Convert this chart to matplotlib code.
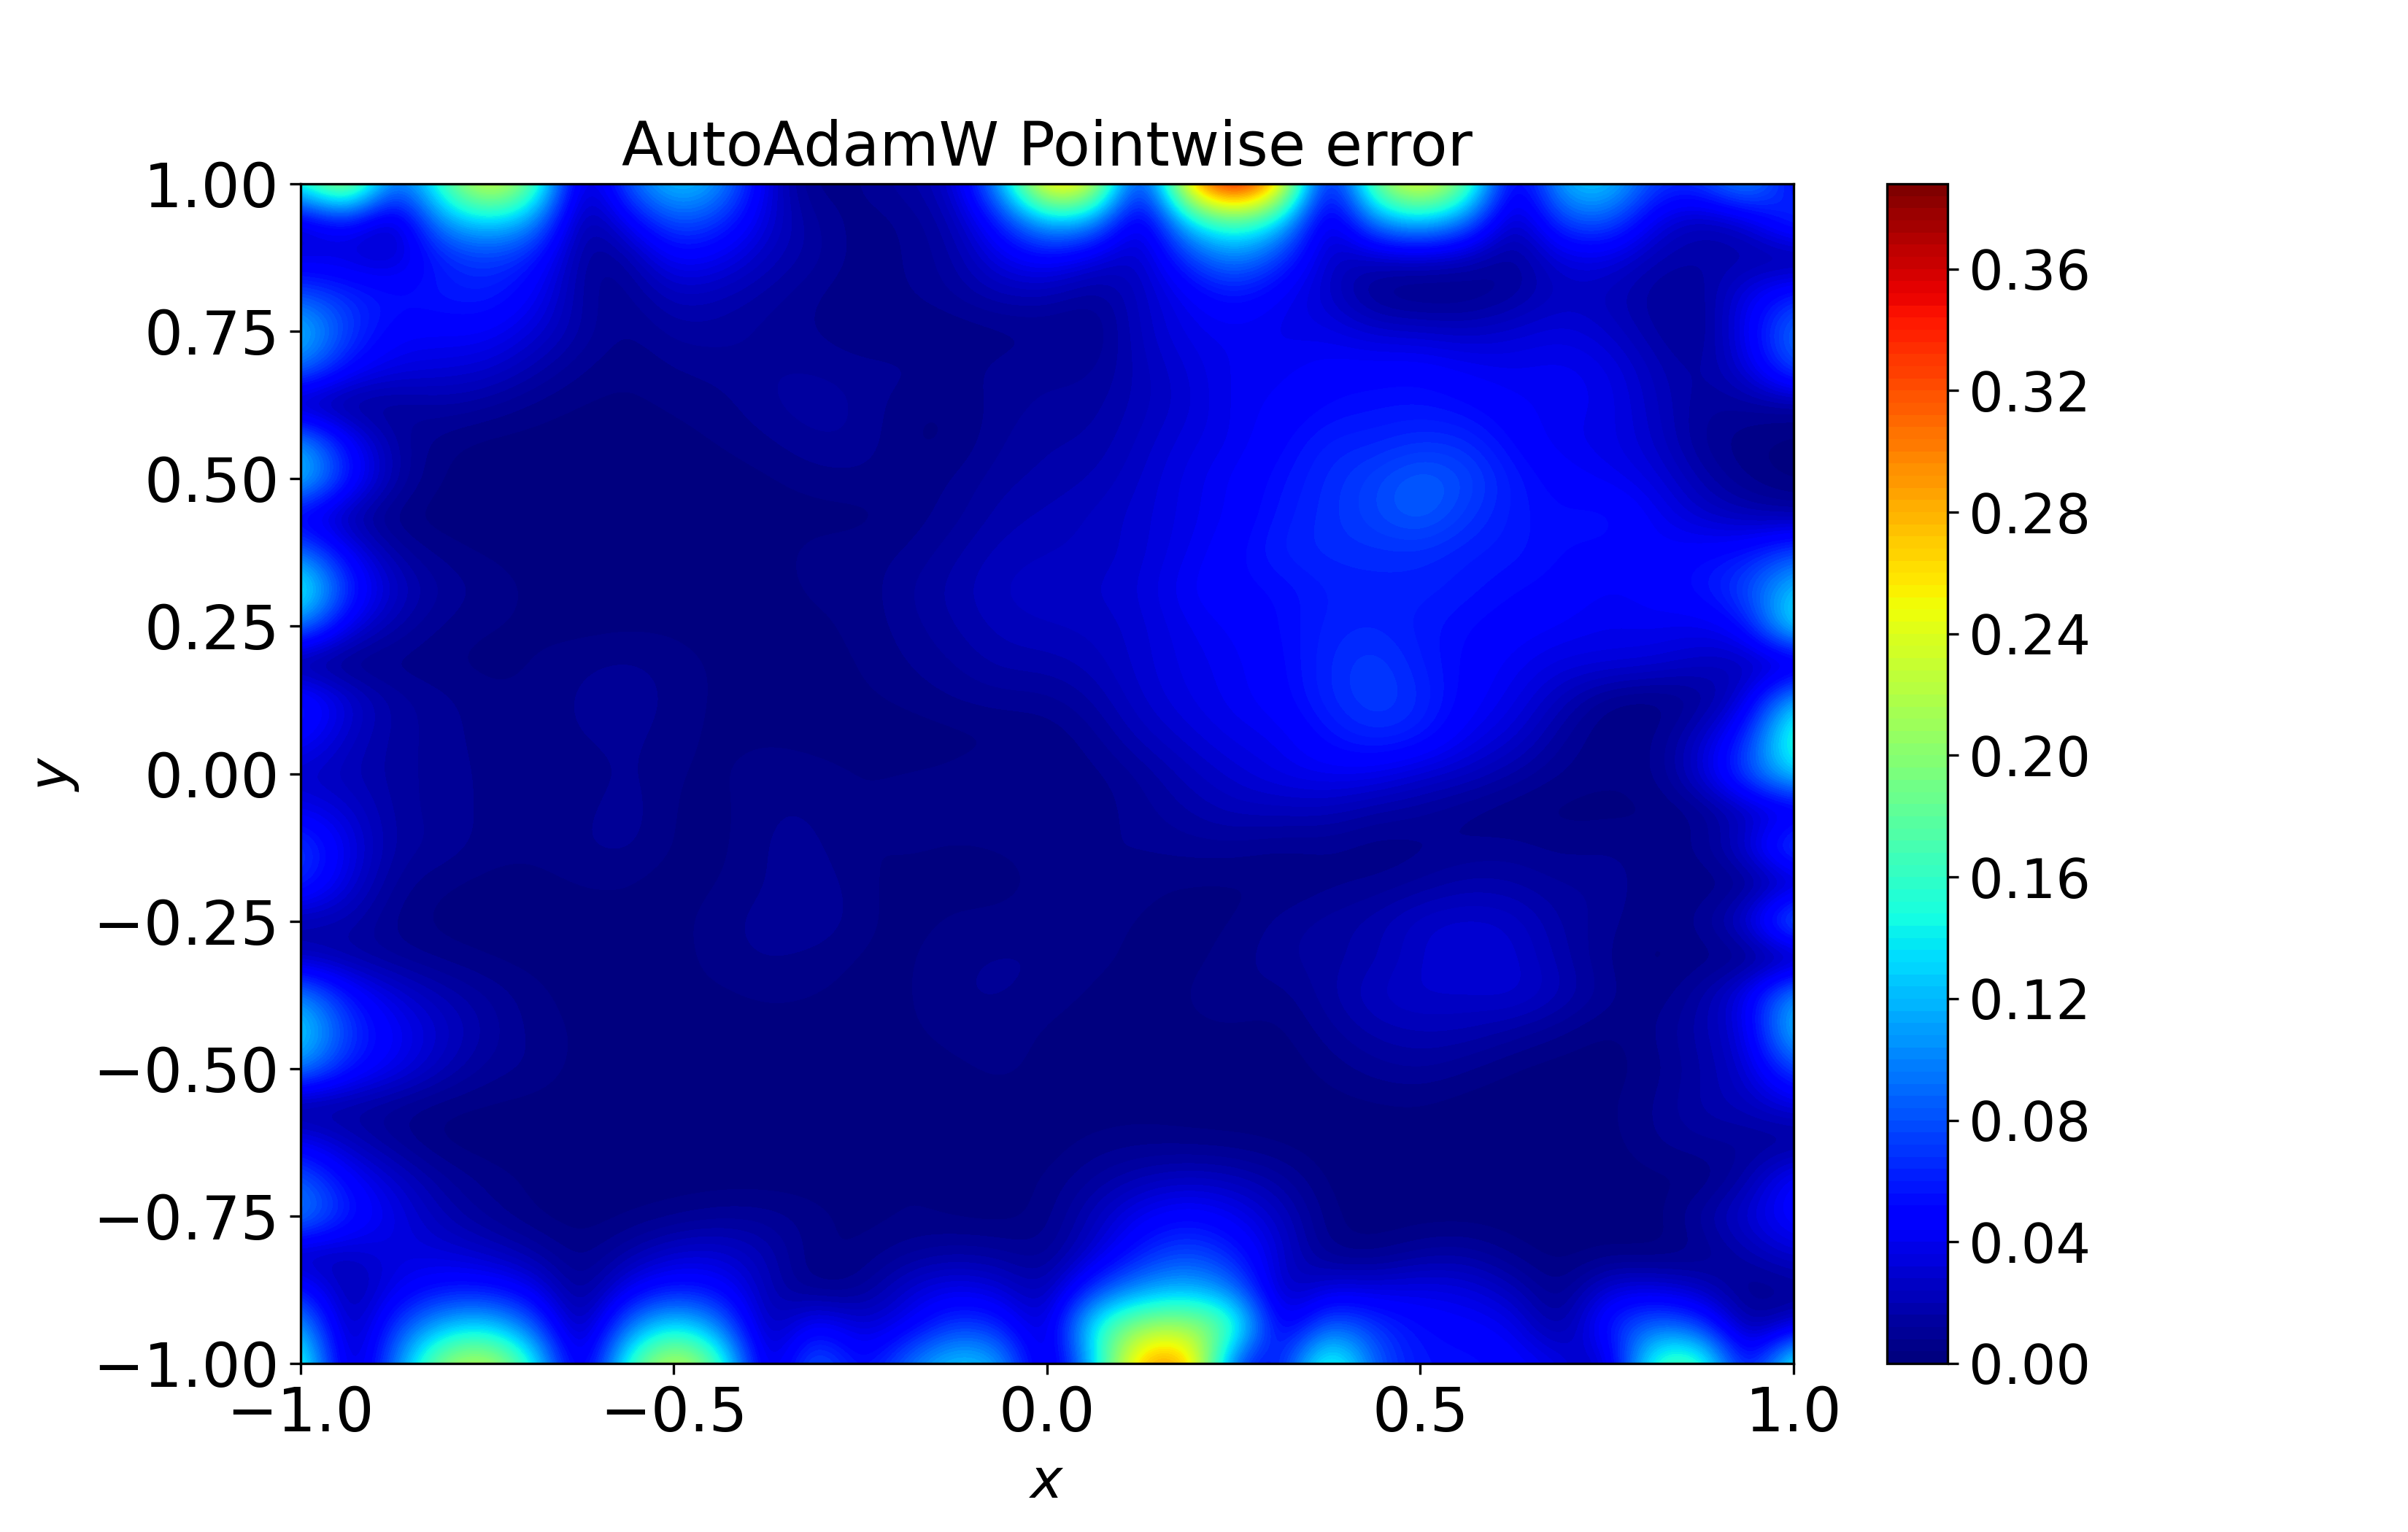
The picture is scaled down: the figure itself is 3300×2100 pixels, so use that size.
import numpy as np
import matplotlib
matplotlib.use('Agg')
import matplotlib.pyplot as plt
from matplotlib.colors import BoundaryNorm

# pointwise error, in units of 0.001
# rows go from y=1 down to y=-1, columns from x=-1 to x=1
err_milli = [
    [150,250,70,165,258,190,5,85,135,110,30,3,8,15,25,110,290,255,20,280,388,280,10,200,268,190,15,125,135,70,70,120,40],
    [25,55,10,110,135,110,5,42,85,70,30,12,5,8,18,60,125,110,12,135,175,135,10,105,130,95,10,78,88,35,18,28,80],
    [35,32,25,60,72,60,10,12,48,40,22,14,5,8,14,38,50,32,22,70,105,70,25,22,25,20,8,34,36,18,16,15,5],
    [78,65,55,58,62,45,12,8,24,20,14,8,4,8,12,20,20,10,25,42,58,42,28,6,2,4,12,25,22,12,10,38,62],
    [135,72,46,46,46,32,15,6,14,14,10,8,3,3,4,5,7,5,25,38,42,38,38,30,28,25,30,35,28,15,7,42,100],
    [98,50,36,33,30,18,8,4,8,10,12,12,10,10,6,10,11,10,22,32,42,42,48,48,50,43,40,43,38,22,12,32,85],
    [8,6,10,16,12,6,3,3,4,6,12,15,12,4,4,10,13,14,22,30,42,45,52,55,56,52,45,42,40,25,12,12,10],
    [115,48,14,5,2,2,2,3,3,4,7,12,12,3,3,12,16,16,25,35,40,50,62,62,68,66,50,40,38,28,10,4,2],
    [140,60,16,3,1,1,1,1,1,2,3,6,7,5,8,15,17,20,28,38,45,55,65,75,88,78,58,48,42,35,18,6,1],
    [35,14,3,1,1,1,1,1,1,1,2,2,2,5,10,18,21,25,30,38,45,58,66,76,88,70,58,52,58,43,28,20,15],
    [95,42,14,6,3,2,1,1,1,1,2,6,6,8,15,22,24,25,30,40,50,62,66,66,66,60,58,52,50,46,50,55,78],
    [170,65,26,12,7,3,2,1,1,1,2,5,5,12,18,25,27,28,32,45,50,52,60,62,62,58,52,50,42,48,55,78,130],
    [100,36,16,7,4,3,2,3,3,2,2,3,5,10,16,22,24,25,30,40,45,52,62,64,58,52,48,44,40,42,38,50,155],
    [2,2,5,4,2,4,7,9,6,3,3,2,4,8,12,18,18,22,30,38,42,50,64,74,60,50,42,35,35,32,25,20,12],
    [68,32,14,10,5,5,9,13,6,3,3,2,3,5,8,10,10,16,28,36,42,48,64,74,66,48,38,22,6,3,8,30,125],
    [52,25,14,10,6,5,8,10,5,3,3,2,1,1,2,3,4,10,22,30,38,40,55,66,60,40,30,12,3,6,25,62,175],
    [25,20,14,10,7,6,4,10,4,3,7,6,4,4,5,7,5,6,12,22,30,38,42,40,30,25,15,7,5,6,30,82,140],
    [40,30,14,10,7,6,6,12,3,2,8,8,3,7,7,8,7,5,10,16,22,22,22,15,12,6,3,2,2,3,6,20,25],
    [78,38,14,12,6,5,8,10,3,2,9,10,3,5,3,4,6,8,8,10,10,7,8,4,6,8,10,6,8,6,8,32,95],
    [68,32,10,4,2,2,4,4,1,4,8,12,5,2,2,2,5,10,5,3,3,3,6,8,12,18,16,12,12,4,3,4,15],
    [15,18,6,2,2,2,2,3,2,7,10,14,5,2,5,5,7,6,3,3,3,10,14,18,28,30,28,15,10,3,10,32,115],
    [20,14,10,6,3,2,2,2,2,6,9,6,3,3,7,9,8,5,3,2,6,12,14,18,28,35,30,18,7,2,4,2,3],
    [105,55,32,20,12,5,2,4,3,3,5,4,3,3,8,9,6,3,2,4,8,5,15,25,30,28,32,22,10,3,15,40,115],
    [145,70,45,28,15,6,3,4,1,1,2,2,2,3,6,6,3,2,2,3,3,2,10,18,20,20,14,8,2,8,18,32,135],
    [105,58,40,22,10,8,2,2,1,1,1,2,1,1,3,5,3,1,2,2,2,1,5,10,13,8,3,1,2,5,15,28,80],
    [5,12,8,4,3,2,1,1,1,1,1,1,1,1,2,3,2,1,2,1,1,2,2,3,3,1,1,1,3,8,18,22,35],
    [42,22,10,2,1,1,1,1,1,1,1,1,1,5,2,1,1,5,6,5,4,2,1,1,3,1,1,1,2,8,12,10,6],
    [88,48,28,13,6,3,1,1,1,1,1,1,1,5,3,2,4,12,20,25,22,14,2,1,1,1,1,1,1,3,1,15,52],
    [110,60,38,20,10,3,1,3,6,10,10,6,2,4,2,1,5,22,42,52,42,25,4,1,1,1,1,1,1,1,15,32,55],
    [15,25,35,32,25,15,4,15,28,30,20,3,4,10,14,12,7,28,60,78,60,30,5,4,12,14,5,1,3,1,5,18,32],
    [60,12,38,55,55,40,4,40,58,50,20,4,8,30,40,32,14,70,105,120,95,15,36,34,38,35,22,3,34,34,24,4,8],
    [125,5,70,120,135,85,3,95,145,100,8,55,28,40,75,65,15,160,210,215,185,20,95,70,52,48,42,5,65,95,75,8,30],
    [175,3,90,210,238,155,2,165,248,175,3,105,40,95,135,120,6,125,295,305,60,45,190,80,55,55,50,40,10,175,185,25,175],
]
title = 'AutoAdamW Pointwise error'
cbar_ticks = [0.00, 0.04, 0.08, 0.12, 0.16, 0.20, 0.24, 0.28, 0.32, 0.36]
levels = np.arange(0, 0.3881, 0.004)

Z = np.array(err_milli) / 1000.0
dx = 2.0 / (Z.shape[1] - 1)
dy = 2.0 / (Z.shape[0] - 1)

fig = plt.figure(figsize=(11, 7), dpi=300)
ax = fig.add_axes([0.1248, 0.11, 0.62, 0.77])
norm = BoundaryNorm(levels, 256)
im = ax.imshow(Z, extent=(-1 - dx / 2, 1 + dx / 2, -1 - dy / 2, 1 + dy / 2), origin='upper',
               cmap='jet', norm=norm, aspect='auto', interpolation='bicubic', interpolation_stage='data')
ax.set_xlim(-1, 1)
ax.set_ylim(-1, 1)
ax.set_xticks([-1.0, -0.5, 0.0, 0.5, 1.0])
ax.set_yticks([-1.0, -0.75, -0.5, -0.25, 0.0, 0.25, 0.5, 0.75, 1.0])
ax.yaxis.set_major_formatter('{x:.2f}')
ax.tick_params(labelsize=20)
ax.set_xlabel('$x$', fontsize=18)
ax.set_ylabel('$y$', fontsize=18)
ax.set_title(title, fontsize=20)

cax = fig.add_axes([0.7836, 0.11, 0.0252, 0.77])
cbar = fig.colorbar(im, cax=cax, ticks=cbar_ticks, format='%.2f')
cbar.ax.tick_params(labelsize=18)
cbar.ax.minorticks_off()

fig.savefig('out.png', dpi=300)
